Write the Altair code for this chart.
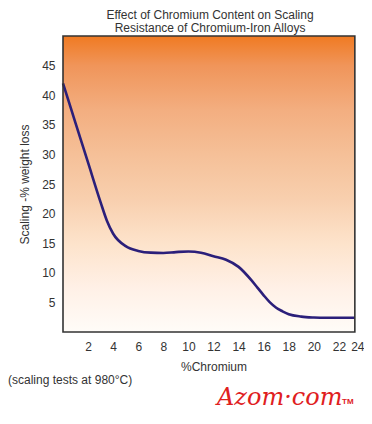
import altair as alt
import pandas as pd

# ---- data ----
chromium = [0, 1, 2, 3, 3.5, 4, 5, 6, 7, 8, 9, 10, 11, 12, 13, 14, 15, 15.5, 16, 16.5, 17, 17.5, 18, 19, 20, 21, 22, 23.27]
scaling = [42, 35.3, 28.6, 21.9, 18.8, 16.6, 14.5, 13.7, 13.4, 13.35, 13.5, 13.6, 13.4, 12.8, 12.2, 11.0, 8.8, 7.5, 6.2, 5.0, 4.1, 3.5, 3.0, 2.6, 2.45, 2.4, 2.4, 2.4]
x_ticks = [2, 4, 6, 8, 10, 12, 14, 16, 18, 20, 22, 24]
y_ticks = [5, 10, 15, 20, 25, 30, 35, 40, 45]
x_domain = [0, 24]
y_domain = [0, 50]
frame_x = [0, 23.27]
frame_y = [0, 50]
title_lines = ["Effect of Chromium Content on Scaling", "Resistance of Chromium-Iron Alloys"]
note_text = ["(scaling tests at 980°C)"]
logo_text = ["Azom·com"]
tm_text = ["TM"]

W, H = 301, 296
FONT = "Liberation Sans"
TXT = "#333333"

xs = alt.Scale(domain=x_domain, nice=False, zero=False)
ys = alt.Scale(domain=y_domain, nice=False, zero=False)

x_axis = alt.Axis(
    values=x_ticks, title="%Chromium", domain=False, ticks=False, grid=False,
    labelOverlap=False, labelFlush=True,
    labelFont=FONT, labelFontSize=12, labelColor=TXT, labelPadding=9,
    titleFont=FONT, titleFontSize=12, titleFontWeight="normal", titleColor=TXT, titlePadding=9)
y_axis = alt.Axis(
    values=y_ticks, title="Scaling -% weight loss", domain=False, ticks=False, grid=False,
    labelOverlap=False,
    labelFont=FONT, labelFontSize=12, labelColor=TXT, labelPadding=8,
    titleFont=FONT, titleFontSize=12, titleFontWeight="normal", titleColor=TXT, titlePadding=10)

frame_df = pd.DataFrame({"x0": [frame_x[0]], "x1": [frame_x[1]], "y0": [frame_y[0]], "y1": [frame_y[1]]})
line_df = pd.DataFrame({"cr": chromium, "loss": scaling})

grad = alt.Gradient(
    gradient="linear", x1=0, x2=0, y1=0, y2=1,
    stops=[
        alt.GradientStop(color="#F07A22", offset=0.0),
        alt.GradientStop(color="#F0955A", offset=0.10),
        alt.GradientStop(color="#F3AE80", offset=0.25),
        alt.GradientStop(color="#F5C098", offset=0.40),
        alt.GradientStop(color="#F8CFAE", offset=0.55),
        alt.GradientStop(color="#FDE3CB", offset=0.70),
        alt.GradientStop(color="#FFF0E6", offset=0.85),
        alt.GradientStop(color="#FFFCF8", offset=1.0),
    ],
)

bg = alt.Chart(frame_df).mark_rect(fill=grad).encode(
    x=alt.X("x0:Q", scale=xs, axis=x_axis), x2="x1:Q",
    y=alt.Y("y0:Q", scale=ys, axis=y_axis), y2="y1:Q",
)

border = alt.Chart(frame_df).mark_rect(fill=None, stroke="#333333", strokeWidth=1.6).encode(
    x=alt.X("x0:Q", scale=xs, axis=x_axis), x2="x1:Q",
    y=alt.Y("y0:Q", scale=ys, axis=y_axis), y2="y1:Q"
)

curve = alt.Chart(line_df).mark_line(color="#2B1F7A", strokeWidth=2.6, interpolate="monotone").encode(
    x=alt.X("cr:Q", scale=xs, axis=x_axis), y=alt.Y("loss:Q", scale=ys, axis=y_axis)
)

t1 = alt.Chart(pd.DataFrame({"t": [title_lines[0]]})).mark_text(
    font=FONT, fontSize=12, color=TXT, align="center", baseline="middle"
).encode(text="t:N", x=alt.value(147), y=alt.value(-21))
t2 = alt.Chart(pd.DataFrame({"t": [title_lines[1]]})).mark_text(
    font=FONT, fontSize=12, color=TXT, align="center", baseline="middle"
).encode(text="t:N", x=alt.value(147), y=alt.value(-8))

note = alt.Chart(pd.DataFrame({"t": note_text})).mark_text(
    font=FONT, fontSize=12, color=TXT, align="left", baseline="middle"
).encode(text="t:N", x=alt.value(-55), y=alt.value(344))

logo = alt.Chart(pd.DataFrame({"t": logo_text})).mark_text(
    font="DejaVu Serif", fontSize=24, fontStyle="italic", color="#E0201E", align="left", baseline="middle"
).encode(text="t:N", x=alt.value(154), y=alt.value(362))
tm = alt.Chart(pd.DataFrame({"t": tm_text})).mark_text(
    font=FONT, fontSize=8, fontWeight="bold", color="#E0201E", align="left", baseline="middle"
).encode(text="t:N", x=alt.value(279), y=alt.value(366))

chart = alt.layer(bg, curve, border, t1, t2, note, logo, tm).properties(
    width=W, height=H,
    autosize=alt.AutoSizeParams(type="none"),
    padding={"left": 55, "top": 28, "right": 0, "bottom": 78},
).configure_view(stroke=None).configure_axis(labelOverlap=False)

chart.save("out.html", embed_options={"renderer": "svg", "actions": False})
